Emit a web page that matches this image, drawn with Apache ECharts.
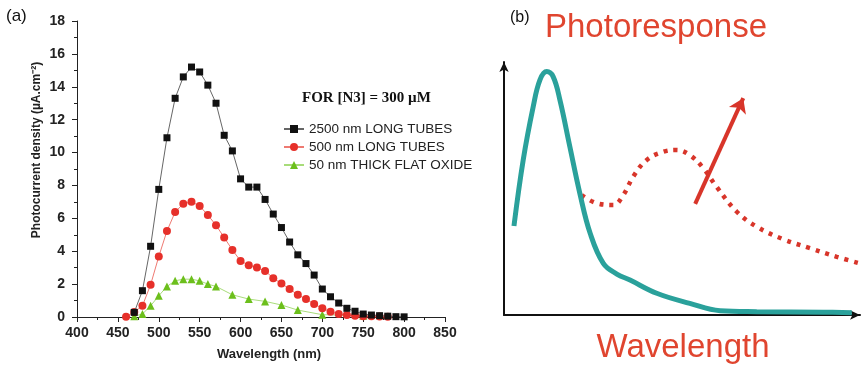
<!DOCTYPE html>
<html><head><meta charset="utf-8">
<script src="https://cdn.jsdelivr.net/npm/echarts@6/dist/echarts.min.js"></script>
<style>html,body{margin:0;padding:0;background:#fff}#c{width:861px;height:366px}</style>
</head><body><div id="c"></div>
<script>
// ---------- Panel (a) data ----------
const seriesNames = ['2500 nm LONG TUBES', '500 nm LONG TUBES', '50 nm THICK FLAT OXIDE'];
const wlBlack = [470,480,490,500,510,520,530,540,550,560,570,580,590,600,610,620,630,640,650,660,670,680,690,700,710,720,730,740,750,760,770,780,790,800];
const valBlack = [0.28,1.6,4.3,7.76,10.9,13.3,14.6,15.2,14.9,14.1,13.0,11.05,10.1,8.4,7.9,7.9,7.15,6.26,5.44,4.56,3.78,3.25,2.55,1.7,1.23,0.85,0.53,0.35,0.18,0.12,0.08,0.05,0.02,0.01];
const wlRed = [460,470,480,490,500,510,520,530,540,550,560,570,580,590,600,610,620,630,640,650,660,670,680,690,700,710,720,730,740,750,760,770,780];
const valRed = [0.02,0.3,0.68,1.96,3.68,5.23,6.38,6.89,7.01,6.75,6.2,5.58,4.83,4.08,3.41,3.15,3.01,2.8,2.36,2.04,1.7,1.35,1.09,0.79,0.53,0.32,0.18,0.12,0.08,0.05,0.05,0.03,0.02];
const wlGreen = [470,480,490,500,510,520,530,540,550,560,570,590,610,630,650,670,700,750];
const valGreen = [0.05,0.18,0.68,1.29,1.86,2.2,2.3,2.3,2.2,2.0,1.86,1.35,1.09,0.95,0.73,0.42,0.14,0.08];
const xAxisTitle = 'Wavelength (nm)';
const yAxisTitle = 'Photocurrent density (\u00b5A.cm\u207b\u00b2)';
const legendTitle = 'FOR [N3] = 300 \u00b5M';

// ---------- Panel (b) schematic data (arbitrary units 0-100) ----------
const tealX = [2.8,5.4,8.2,10.1,12.0,13.8,15.7,18.5,21.3,24.2,27.9,31.7,35.4,42.9,52.2,60.7,71.0,89.7,97.7];
const tealY = [35.2,61.3,82.3,92.9,96.2,94.2,85.0,66.5,48.1,32.3,20.4,16.2,13.8,8.6,4.6,1.7,1.3,1.1,0.9];
const redX = [21.8,26.0,30.7,33.5,36.3,40.1,44.7,48.5,52.2,56.0,59.7,65.4,71.0,78.5,86.0,93.5,100];
const redY = [47.4,44.2,43.5,47.4,54.7,61.3,64.5,65.2,63.2,58.0,50.7,40.8,34.9,29.9,26.4,23.0,20.4];
const arrowStart = [53.7,43.9];
const arrowEnd = [67.2,85.7];

const zip = (a, b) => a.map((v, i) => [v, b[i]]);
const FONT = 'Liberation Sans, Arial, sans-serif';
const RED = '#d8352a';
const TEAL = '#2aa19b';

const chart = echarts.init(document.getElementById('c'), null, {renderer: 'canvas'});
chart.setOption({
  animation: false,
  backgroundColor: '#fff',
  grid: [
    {left: 77, top: 21, width: 368, height: 297},
    {left: 504, top: 62, width: 356, height: 253}
  ],
  xAxis: [
    {gridIndex: 0, type: 'value', min: 400, max: 850, interval: 50,
     axisLine: {show: true, lineStyle: {color: '#222', width: 1}},
     axisTick: {show: true, inside: false, length: 5, lineStyle: {color: '#222'}},
     minorTick: {show: true, splitNumber: 2, length: 3, lineStyle: {color: '#222'}},
     splitLine: {show: false},
     axisLabel: {color: '#222', fontFamily: FONT, fontWeight: 'bold', fontSize: 14, margin: 9},
     name: xAxisTitle, nameLocation: 'middle', nameGap: 31,
     nameTextStyle: {color: '#222', fontFamily: FONT, fontWeight: 'bold', fontSize: 13, padding: [0, 0, 0, 16]}},
    {gridIndex: 1, type: 'value', min: 0, max: 100,
     axisLine: {show: true, onZero: false, symbol: ['none', 'arrow'], symbolSize: [7, 10], lineStyle: {color: '#111', width: 2}},
     axisTick: {show: false}, axisLabel: {show: false}, splitLine: {show: false}}
  ],
  yAxis: [
    {gridIndex: 0, type: 'value', min: 0, max: 18, interval: 2,
     axisLine: {show: true, lineStyle: {color: '#222', width: 1}},
     axisTick: {show: true, inside: false, length: 5, lineStyle: {color: '#222'}},
     minorTick: {show: true, splitNumber: 2, length: 3, lineStyle: {color: '#222'}},
     splitLine: {show: false},
     axisLabel: {color: '#222', fontFamily: FONT, fontWeight: 'bold', fontSize: 14, margin: 12}},
    {gridIndex: 1, type: 'value', min: 0, max: 100,
     axisLine: {show: true, onZero: false, symbol: ['none', 'arrow'], symbolSize: [7, 10], lineStyle: {color: '#111', width: 2}},
     axisTick: {show: false}, axisLabel: {show: false}, splitLine: {show: false}}
  ],
  legend: {
    left: 278, top: 117, orient: 'vertical', itemGap: 4, itemWidth: 20, itemHeight: 10,
    data: seriesNames,
    textStyle: {fontFamily: FONT, fontSize: 13.5, color: '#222'}
  },
  graphic: [
    {type: 'text', left: 6, top: 8, style: {text: '(a)', font: '17px ' + FONT, fill: '#111'}},
    {type: 'text', left: 510, top: 10, style: {text: '(b)', font: '16px ' + FONT, fill: '#111'}},
    {type: 'text', x: 302, y: 98, style: {text: legendTitle, font: 'bold 15px Liberation Serif, Times New Roman, serif', fill: '#111', verticalAlign: 'middle'}},
    {type: 'text', x: 37, y: 150, rotation: Math.PI / 2, style: {text: yAxisTitle, font: 'bold 12px ' + FONT, fill: '#222', align: 'center', verticalAlign: 'middle'}},
    {type: 'text', x: 656, y: 28, style: {text: 'Photoresponse', font: '33px ' + FONT, fill: '#e0452f', align: 'center', verticalAlign: 'middle'}},
    {type: 'text', x: 683, y: 348, style: {text: 'Wavelength', font: '33px ' + FONT, fill: '#e0452f', align: 'center', verticalAlign: 'middle'}}
  ],
  series: [
    {name: seriesNames[0], type: 'line', xAxisIndex: 0, yAxisIndex: 0, data: zip(wlBlack, valBlack),
     symbol: 'rect', symbolSize: 7, itemStyle: {color: '#111'}, lineStyle: {color: '#666', width: 1}, z: 4},
    {name: seriesNames[1], type: 'line', xAxisIndex: 0, yAxisIndex: 0, data: zip(wlRed, valRed),
     symbol: 'circle', symbolSize: 8, itemStyle: {color: '#e6302a'}, lineStyle: {color: '#ee7a72', width: 1}, z: 3},
    {name: seriesNames[2], type: 'line', xAxisIndex: 0, yAxisIndex: 0, data: zip(wlGreen, valGreen),
     symbol: 'triangle', symbolSize: 8, itemStyle: {color: '#6cbf1c'}, lineStyle: {color: '#a8dc7a', width: 1}, z: 2},
    {name: 'teal', type: 'line', xAxisIndex: 1, yAxisIndex: 1, data: zip(tealX, tealY), smooth: 0.4,
     showSymbol: false, symbol: 'none', lineStyle: {color: TEAL, width: 5}, z: 3},
    {name: 'dotted', type: 'line', xAxisIndex: 1, yAxisIndex: 1, data: zip(redX, redY), smooth: 0.4,
     showSymbol: false, symbol: 'none', lineStyle: {color: RED, width: 4.5, type: [4, 6], cap: 'butt'}, z: 2},
    {name: 'arrow', type: 'lines', coordinateSystem: 'cartesian2d', xAxisIndex: 1, yAxisIndex: 1,
     data: [{coords: [arrowStart, arrowEnd]}], symbol: ['none', 'arrow'], symbolSize: 14,
     lineStyle: {color: RED, width: 4, opacity: 1}, z: 4}
  ]
});
</script></body></html>
